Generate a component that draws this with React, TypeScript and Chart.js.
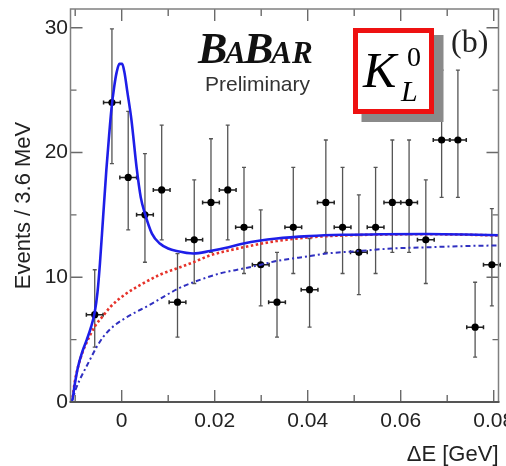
import React, { useEffect, useRef } from 'react';
import { Chart, registerables } from 'chart.js';

Chart.register(...registerables);

// ---- data ----
const binCenters = [-0.0058, -0.0021, 0.0014, 0.005, 0.0086, 0.012, 0.0156, 0.0192, 0.0228, 0.0263, 0.0299, 0.0334, 0.0369, 0.0404, 0.0439, 0.0475, 0.051, 0.0546, 0.0582, 0.0618, 0.0654, 0.0688, 0.0723, 0.076, 0.0796];
const counts = [7, 24, 18, 15, 17, 8, 13, 16, 17, 14, 11, 8, 14, 9, 16, 14, 12, 14, 16, 16, 13, 21, 21, 6, 11];
const errUpper = [10.6, 29.9, 23.3, 19.9, 22.2, 11.9, 17.8, 21.1, 22.2, 18.8, 15.4, 12.0, 18.8, 13.1, 21.0, 18.8, 16.6, 18.8, 21.0, 21.0, 17.8, 26.6, 26.6, 9.6, 15.5];
const errLower = [4.4, 19.1, 13.8, 11.2, 13.0, 5.2, 9.5, 12.0, 13.0, 10.3, 7.7, 5.2, 10.3, 6.0, 12.0, 10.3, 8.6, 10.3, 12.0, 12.0, 9.5, 16.4, 16.4, 3.6, 7.7];
const binHalfWidth = 0.0018;

const totalX = [-0.011, -0.0106, -0.0101, -0.0094, -0.0085, -0.0075, -0.0066, -0.0058, -0.0052, -0.0047, -0.004, -0.0033, -0.0027, -0.0022, -0.0016, -0.0011, -0.0005, 0.0001, 0.0006, 0.0012, 0.0021, 0.0032, 0.0041, 0.005, 0.0065, 0.0082, 0.01, 0.0118, 0.0154, 0.019, 0.023, 0.0262, 0.0333, 0.0405, 0.0477, 0.056, 0.0656, 0.074, 0.0812];
const totalY = [0, 0.2, 1.4, 2.8, 4.0, 5.0, 6.0, 7.2, 8.8, 11.0, 14.8, 18.6, 21.4, 23.5, 25.3, 26.4, 27.1, 27.1, 26.4, 24.9, 22.6, 18.8, 16.4, 15.1, 13.5, 12.7, 12.3, 12.1, 11.9, 12.1, 12.4, 12.7, 13.1, 13.3, 13.4, 13.45, 13.47, 13.43, 13.36];

const bkgX = [-0.011, -0.0106, -0.0101, -0.0094, -0.0085, -0.0075, -0.0057, -0.004, -0.0025, 0.001, 0.0046, 0.0082, 0.0118, 0.0154, 0.019, 0.0262, 0.0333, 0.0405, 0.0477, 0.056, 0.0656, 0.074, 0.0812];
const bkgY = [0, 0.3, 1.6, 2.8, 3.9, 4.8, 6.1, 6.9, 7.6, 8.7, 9.5, 10.2, 10.7, 11.2, 11.75, 12.4, 12.9, 13.2, 13.35, 13.42, 13.45, 13.41, 13.34];

const bkg2X = [-0.011, -0.0106, -0.0099, -0.009, -0.0075, -0.0054, -0.004, -0.002, 0.0011, 0.0061, 0.0122, 0.0154, 0.0211, 0.0262, 0.0299, 0.0333, 0.0405, 0.044, 0.051, 0.058, 0.0656, 0.074, 0.0812];
const bkg2Y = [0, 0.2, 1.0, 1.8, 2.9, 4.4, 5.2, 6.0, 6.8, 7.8, 9.1, 9.6, 10.3, 10.7, 11.0, 11.3, 11.7, 11.9, 12.1, 12.3, 12.4, 12.5, 12.55];

const xTicksMajor = [0, 0.02, 0.04, 0.06, 0.08];
const xTicksMinor = [-0.01, 0.01, 0.03, 0.05, 0.07];
const yTicksMajor = [0, 10, 20, 30];
const yTicksMinor = [5, 15, 25];

const X_MIN = -0.01101;
const X_MAX = 0.08103;
const Y_MIN = 0;
const Y_MAX = 31.5;

const SANS = "'Liberation Sans', Arial, sans-serif";
const SERIF = "'Liberation Serif', 'Times New Roman', serif";

const errorBarPlugin = {
  id: 'errorBars',
  beforeDatasetsDraw(chart: any) {
    const { ctx, scales } = chart;
    const xs = scales.x;
    const ys = scales.y;
    ctx.save();
    for (let i = 0; i < binCenters.length; i++) {
      const px = xs.getPixelForValue(binCenters[i]);
      const py = ys.getPixelForValue(counts[i]);
      const pTop = ys.getPixelForValue(errUpper[i]);
      const pBot = ys.getPixelForValue(errLower[i]);
      const pL = xs.getPixelForValue(binCenters[i] - binHalfWidth);
      const pR = xs.getPixelForValue(binCenters[i] + binHalfWidth);
      ctx.strokeStyle = '#555';
      ctx.lineWidth = 1.3;
      ctx.beginPath();
      ctx.moveTo(px, pTop);
      ctx.lineTo(px, pBot);
      ctx.moveTo(px - 2, pTop);
      ctx.lineTo(px + 2, pTop);
      ctx.moveTo(px - 2, pBot);
      ctx.lineTo(px + 2, pBot);
      ctx.stroke();
      ctx.strokeStyle = '#222';
      ctx.lineWidth = 1.5;
      ctx.beginPath();
      ctx.moveTo(pL, py);
      ctx.lineTo(pR, py);
      ctx.moveTo(pL, py - 2);
      ctx.lineTo(pL, py + 2);
      ctx.moveTo(pR, py - 2);
      ctx.lineTo(pR, py + 2);
      ctx.stroke();
    }
    ctx.restore();
  },
};

const framePlugin = {
  id: 'frameTicks',
  afterDatasetsDraw(chart: any) {
    const { ctx, chartArea, scales } = chart;
    const { left, right, top, bottom } = chartArea;
    const xs = scales.x;
    const ys = scales.y;
    ctx.save();
    ctx.strokeStyle = '#6a6a6a';
    ctx.lineWidth = 1.4;
    ctx.beginPath();
    const xTick = (v: number, len: number) => {
      const p = xs.getPixelForValue(v);
      ctx.moveTo(p, bottom);
      ctx.lineTo(p, bottom - len);
      ctx.moveTo(p, top);
      ctx.lineTo(p, top + len);
    };
    const yTick = (v: number, len: number) => {
      const p = ys.getPixelForValue(v);
      ctx.moveTo(left, p);
      ctx.lineTo(left + len, p);
      ctx.moveTo(right, p);
      ctx.lineTo(right - len, p);
    };
    xTicksMajor.forEach((v) => xTick(v, 12));
    xTicksMinor.forEach((v) => xTick(v, 7));
    yTicksMajor.forEach((v) => yTick(v, 12));
    yTicksMinor.forEach((v) => yTick(v, 6));
    ctx.stroke();
    ctx.strokeStyle = '#808080';
    ctx.lineWidth = 1.5;
    ctx.beginPath();
    ctx.moveTo(left, bottom);
    ctx.lineTo(left, top);
    ctx.lineTo(right, top);
    ctx.lineTo(right, bottom);
    ctx.stroke();
    ctx.strokeStyle = '#555';
    ctx.lineWidth = 2;
    ctx.beginPath();
    ctx.moveTo(left - 1, bottom);
    ctx.lineTo(right + 1, bottom);
    ctx.stroke();
    ctx.restore();
  },
};

const annotationPlugin = {
  id: 'annotations',
  afterDraw(chart: any) {
    const { ctx } = chart;
    ctx.save();
    // BaBar logo
    ctx.fillStyle = '#111';
    ctx.textBaseline = 'alphabetic';
    ctx.textAlign = 'left';
    const big = `italic bold 44px ${SERIF}`;
    const small = `italic bold 31px ${SERIF}`;
    const parts: [string, string, number][] = [
      ['B', big, 198],
      ['A', small, 225],
      ['B', big, 244],
      ['A', small, 271],
      ['R', small, 292],
    ];
    parts.forEach(([t, f, x]) => {
      ctx.font = f;
      ctx.fillText(t, x, 63);
    });
    ctx.font = `21px ${SANS}`;
    ctx.fillStyle = '#333';
    ctx.fillText('Preliminary', 205, 91);

    // K_L^0 box
    ctx.fillStyle = '#8a8a8a';
    ctx.fillRect(361.5, 35, 82, 87);
    ctx.fillStyle = '#ee1111';
    ctx.fillRect(353, 28, 81, 86);
    ctx.fillStyle = '#ffffff';
    ctx.fillRect(358, 33, 71, 76);
    ctx.fillStyle = '#000';
    ctx.font = `italic 50px ${SERIF}`;
    ctx.fillText('K', 363, 87);
    ctx.font = `28px ${SERIF}`;
    ctx.fillText('0', 407, 66);
    ctx.font = `italic 30px ${SERIF}`;
    ctx.fillText('L', 401, 101);

    // panel label
    ctx.fillStyle = '#222';
    ctx.font = `32px ${SERIF}`;
    ctx.fillText('(b)', 451, 52);
    ctx.restore();
  },
};

export default function App() {
  const canvasRef = useRef<HTMLCanvasElement | null>(null);

  useEffect(() => {
    const canvas = canvasRef.current;
    if (!canvas) return;
    const toPts = (xs: number[], ys: number[]) => xs.map((x, i) => ({ x, y: ys[i] }));
    const chart = new Chart(canvas, {
      type: 'scatter',
      data: {
        datasets: [
          {
            label: 'Total fit',
            data: toPts(totalX, totalY),
            showLine: true,
            borderColor: '#1e1ee8',
            borderWidth: 2.6,
            pointRadius: 0,
            cubicInterpolationMode: 'monotone',
            order: 0,
          } as any,
          {
            label: 'Background',
            data: toPts(bkgX, bkgY),
            showLine: true,
            borderColor: '#e6322a',
            borderWidth: 2.6,
            borderDash: [2.5, 2.5],
            pointRadius: 0,
            cubicInterpolationMode: 'monotone',
            order: 1,
          } as any,
          {
            label: 'Background 2',
            data: toPts(bkg2X, bkg2Y),
            showLine: true,
            borderColor: '#3030c0',
            borderWidth: 2,
            borderDash: [5, 3, 2, 3],
            pointRadius: 0,
            cubicInterpolationMode: 'monotone',
            order: 2,
          } as any,
          {
            label: 'Data',
            data: toPts(binCenters, counts),
            showLine: false,
            pointRadius: 3.6,
            pointBackgroundColor: '#000',
            pointBorderWidth: 0,
            order: 5,
          } as any,
        ],
      },
      options: {
        responsive: false,
        animation: false,
        devicePixelRatio: 1,
        events: [],
        layout: { padding: { left: 0, right: 7.5, top: 9, bottom: 0 } },
        plugins: { legend: { display: false }, tooltip: { enabled: false } },
        scales: {
          x: {
            type: 'linear',
            min: X_MIN,
            max: X_MAX,
            grid: { display: false, drawTicks: false },
            border: { display: false },
            afterBuildTicks: (s: any) => {
              s.ticks = xTicksMajor.map((v) => ({ value: v }));
            },
            afterFit: (s: any) => {
              s.height = 64;
              s.paddingLeft = 0;
              s.paddingRight = 0;
            },
            ticks: {
              autoSkip: false,
              maxRotation: 0,
              padding: 7,
              color: '#222',
              font: { family: SANS, size: 21 },
              callback: (v: any) => (Number(v) === 0 ? '0' : Number(v).toFixed(2)),
            },
            title: {
              display: true,
              text: 'ΔE [GeV]',
              align: 'end',
              color: '#222',
              font: { family: SANS, size: 22, lineHeight: 1 },
              padding: { top: 0, bottom: 0 },
            },
          },
          y: {
            type: 'linear',
            min: Y_MIN,
            max: Y_MAX,
            grid: { display: false, drawTicks: false },
            border: { display: false },
            afterBuildTicks: (s: any) => {
              s.ticks = yTicksMajor.map((v) => ({ value: v }));
            },
            afterFit: (s: any) => {
              s.width = 70.5;
              s.paddingTop = 0;
              s.paddingBottom = 0;
            },
            ticks: {
              autoSkip: false,
              padding: 2.5,
              color: '#222',
              font: { family: SANS, size: 21 },
              callback: (v: any) => String(v),
            },
            title: {
              display: true,
              text: 'Events / 3.6 MeV',
              color: '#222',
              font: { family: SANS, size: 22, lineHeight: 1 },
              padding: { top: 13, bottom: 0 },
            },
          },
        },
      },
      plugins: [errorBarPlugin, framePlugin, annotationPlugin],
    });
    return () => chart.destroy();
  }, []);

  return (
    <div style={{ position: 'absolute', left: 0, top: 0, width: 506, height: 466, background: '#fff' }}>
      <canvas ref={canvasRef} width={506} height={466} style={{ display: 'block', width: 506, height: 466 }} />
    </div>
  );
}
